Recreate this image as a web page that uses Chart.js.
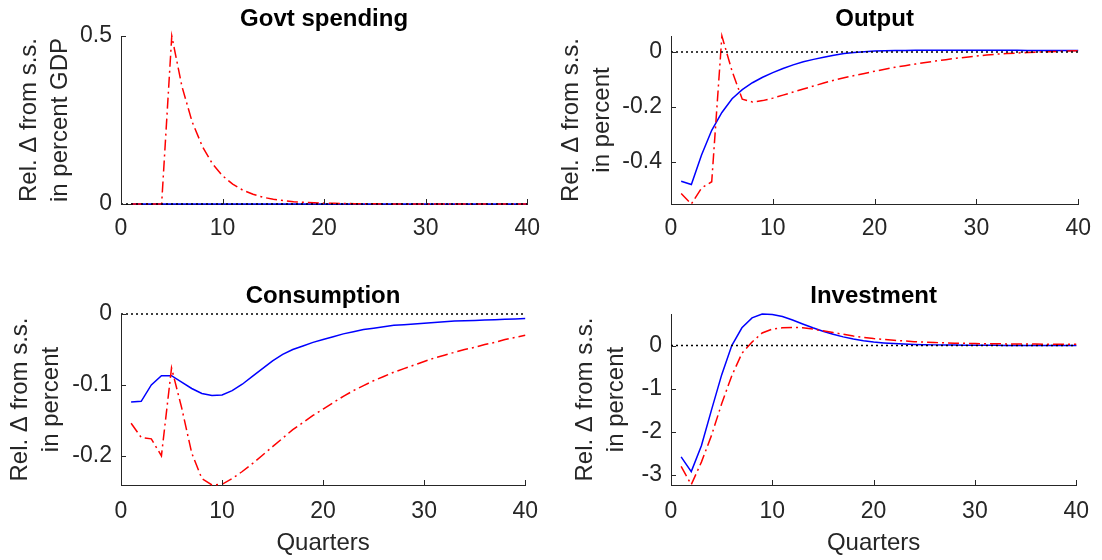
<!DOCTYPE html>
<html>
<head>
<meta charset="utf-8">
<script src="https://cdn.jsdelivr.net/npm/chart.js@4.4.1/dist/chart.umd.min.js"></script>
<style>
body { margin: 0; background: #fff; }
#wrap { position: relative; width: 1102px; height: 560px; }
canvas { position: absolute; }
</style>
</head>
<body>
<div id="wrap">
<canvas id="govt" width="551" height="280" style="left:0;top:0"></canvas>
<canvas id="output" width="551" height="280" style="left:551px;top:0"></canvas>
<canvas id="cons" width="551" height="280" style="left:0;top:280px"></canvas>
<canvas id="inv" width="551" height="280" style="left:551px;top:280px"></canvas>
</div>
<script>
var quarters = [1,2,3,4,5,6,7,8,9,10,11,12,13,14,15,16,17,18,19,20,
                21,22,23,24,25,26,27,28,29,30,31,32,33,34,35,36,37,38,39,40];
var xTicks = [0, 10, 20, 30, 40];
var zeroX = [0, 40];
var zeroY = [0, 0];

// blue = baseline, red = alternative (dash-dot)
var govtBase = [0,0,0,0,0,0,0,0,0,0,0,0,0,0,0,0,0,0,0,0,
                0,0,0,0,0,0,0,0,0,0,0,0,0,0,0,0,0,0,0,0];
var govtAlt = [0,0,0,0,0.5,0.35,0.245,0.172,0.12,0.084,0.059,0.041,0.029,0.02,0.014,0.01,0.007,0.005,0.0035,0.0025,
               0.002,0.0014,0.001,0.0007,0.0005,0.0003,0.0002,0.0002,0.0001,0.0001,0,0,0,0,0,0,0,0,0,0];
var govtTicks = [0, 0.5];

var outputBase = [-0.47,-0.482,-0.375,-0.285,-0.22,-0.17,-0.137,-0.112,-0.092,-0.075,-0.06,-0.047,-0.036,-0.027,-0.019,-0.012,-0.006,-0.002,0.001,0.003,
                  0.004,0.005,0.005,0.006,0.006,0.006,0.006,0.006,0.006,0.006,0.006,0.006,0.006,0.006,0.005,0.005,0.005,0.005,0.005,0.005];
var outputAlt = [-0.515,-0.553,-0.495,-0.472,0.058,-0.07,-0.172,-0.182,-0.177,-0.168,-0.157,-0.146,-0.135,-0.124,-0.113,-0.103,-0.094,-0.086,-0.078,-0.07,
                 -0.063,-0.056,-0.05,-0.044,-0.038,-0.033,-0.028,-0.023,-0.019,-0.015,-0.011,-0.008,-0.006,-0.004,-0.002,-0.001,0.001,0.002,0.003,0.004];
var outputTicks = [-0.4, -0.2, 0];

var consBase = [-0.124,-0.123,-0.1,-0.087,-0.087,-0.096,-0.105,-0.112,-0.115,-0.114,-0.108,-0.099,-0.088,-0.077,-0.066,-0.057,-0.05,-0.045,-0.04,-0.036,
                -0.032,-0.028,-0.025,-0.022,-0.02,-0.018,-0.016,-0.015,-0.014,-0.013,-0.012,-0.011,-0.01,-0.0095,-0.009,-0.0085,-0.008,-0.0075,-0.007,-0.0065];
var consAlt = [-0.154,-0.174,-0.176,-0.2,-0.076,-0.132,-0.196,-0.232,-0.241,-0.24,-0.232,-0.222,-0.211,-0.199,-0.187,-0.175,-0.163,-0.153,-0.143,-0.134,
               -0.125,-0.116,-0.108,-0.101,-0.094,-0.088,-0.082,-0.077,-0.072,-0.067,-0.062,-0.058,-0.054,-0.05,-0.047,-0.043,-0.04,-0.036,-0.033,-0.03];
var consTicks = [-0.2, -0.1, 0];

var invBase = [-2.58,-2.92,-2.32,-1.49,-0.68,0.0,0.41,0.64,0.73,0.72,0.67,0.59,0.5,0.41,0.33,0.26,0.2,0.15,0.11,0.08,
               0.06,0.045,0.035,0.025,0.02,0.015,0.012,0.01,0.008,0.006,0.005,0.004,0.003,0.003,0.002,0.002,0.002,0.001,0.001,0.001];
var invAlt = [-2.8,-3.22,-2.7,-2.08,-1.35,-0.7,-0.18,0.08,0.29,0.38,0.41,0.42,0.41,0.38,0.34,0.3,0.26,0.22,0.19,0.16,
              0.14,0.12,0.105,0.09,0.08,0.07,0.062,0.055,0.05,0.045,0.042,0.04,0.038,0.036,0.034,0.033,0.032,0.031,0.03,0.03];
var invTicks = [-3, -2, -1, 0];

var axisColor = '#262626';
Chart.defaults.font.family = '"Liberation Sans", Arial, Helvetica, sans-serif';
Chart.defaults.color = axisColor;

function toXY(xs, ys) {
    var pts = [];
    for (let i = 0; i < xs.length; i++) {
        pts.push({x: xs[i], y: ys[i]});
    }
    return pts;
}

// matlab style ticks that point into the plot
var innerTicks = {
    id: 'innerTicks',
    afterDatasetsDraw(chart) {
        const {ctx, chartArea, scales} = chart;
        ctx.save();
        ctx.strokeStyle = axisColor;
        ctx.lineWidth = 1;
        ctx.beginPath();
        scales.x.ticks.forEach(t => {
            const px = Math.round(scales.x.getPixelForValue(t.value)) + 0.5;
            ctx.moveTo(px, chartArea.bottom);
            ctx.lineTo(px, chartArea.bottom - 5);
        });
        scales.y.ticks.forEach(t => {
            const py = Math.round(scales.y.getPixelForValue(t.value)) + 0.5;
            ctx.moveTo(chartArea.left, py);
            ctx.lineTo(chartArea.left + 5, py);
        });
        ctx.stroke();
        ctx.restore();
    }
};

function makePanel(id, cfg) {
    new Chart(document.getElementById(id), {
        type: 'line',
        data: {
            datasets: [
                {data: toXY(zeroX, zeroY), borderColor: '#000000', borderDash: [2, 3], borderWidth: 1.5, clip: false},
                {data: toXY(quarters, cfg.alt), borderColor: '#ff0000', borderDash: [11, 4, 2, 4], borderWidth: 1.5, clip: false},
                {data: toXY(quarters, cfg.base), borderColor: '#0000ff', borderWidth: 1.5, clip: false}
            ]
        },
        options: {
            responsive: false,
            animation: false,
            elements: {point: {radius: 0}, line: {tension: 0}},
            layout: {padding: {left: 0, right: cfg.padRight, top: 0, bottom: 0}},
            plugins: {
                legend: {display: false},
                tooltip: {enabled: false},
                title: {
                    display: true,
                    text: cfg.title,
                    fullSize: false,
                    color: '#000000',
                    font: {size: 24, weight: 'bold'},
                    padding: {top: cfg.titleTop, bottom: cfg.titleBottom}
                }
            },
            scales: {
                x: {
                    type: 'linear',
                    min: 0,
                    max: 40,
                    grid: {display: false, drawTicks: false},
                    border: {color: axisColor, width: 1},
                    ticks: {font: {size: 23}, padding: cfg.xTickPad, color: axisColor, callback: v => String(v)},
                    afterBuildTicks: s => { s.ticks = xTicks.map(v => ({value: v})); },
                    afterFit: s => { s.height = cfg.xHeight; },
                    title: {
                        display: cfg.xLabel !== '',
                        text: cfg.xLabel,
                        font: {size: 24},
                        color: axisColor,
                        padding: {top: 0, bottom: 2.6}
                    }
                },
                y: {
                    type: 'linear',
                    min: cfg.yMin,
                    max: cfg.yMax,
                    grid: {display: false, drawTicks: false},
                    border: {color: axisColor, width: 1},
                    ticks: {font: {size: 23}, padding: 9, color: axisColor, callback: v => String(v)},
                    afterBuildTicks: s => { s.ticks = cfg.yTicks.map(v => ({value: v})); },
                    afterFit: s => { s.width = cfg.yWidth; },
                    title: {
                        display: true,
                        text: cfg.yLabel,
                        font: {size: 24, lineHeight: 1.3},
                        color: axisColor,
                        padding: {top: cfg.yLabelPad, bottom: 0}
                    }
                }
            }
        },
        plugins: [innerTicks]
    });
}

makePanel('govt', {
    title: 'Govt spending', base: govtBase, alt: govtAlt, yTicks: govtTicks,
    yMin: 0, yMax: 0.5, yLabel: ['Rel. \u0394 from s.s.', 'in percent GDP'], yLabelPad: 14,
    xLabel: '', xHeight: 76, yWidth: 121, padRight: 21, titleTop: 4.6, titleBottom: 2.6, xTickPad: 11
});
makePanel('output', {
    title: 'Output', base: outputBase, alt: outputAlt, yTicks: outputTicks,
    yMin: -0.553, yMax: 0.058, yLabel: ['Rel. \u0394 from s.s.', 'in percent'], yLabelPad: 5,
    xLabel: '', xHeight: 76, yWidth: 120, padRight: 22, titleTop: 4.6, titleBottom: 2.6, xTickPad: 11
});
makePanel('cons', {
    title: 'Consumption', base: consBase, alt: consAlt, yTicks: consTicks,
    yMin: -0.241, yMax: 0, yLabel: ['Rel. \u0394 from s.s.', 'in percent'], yLabelPad: 5,
    xLabel: 'Quarters', xHeight: 75, yWidth: 121, padRight: 21, titleTop: 1.6, titleBottom: 3.6, xTickPad: 13
});
makePanel('inv', {
    title: 'Investment', base: invBase, alt: invAlt, yTicks: invTicks,
    yMin: -3.23, yMax: 0.73, yLabel: ['Rel. \u0394 from s.s.', 'in percent'], yLabelPad: 19,
    xLabel: 'Quarters', xHeight: 75, yWidth: 120, padRight: 22, titleTop: 1.6, titleBottom: 3.6, xTickPad: 13
});
</script>
</body>
</html>
